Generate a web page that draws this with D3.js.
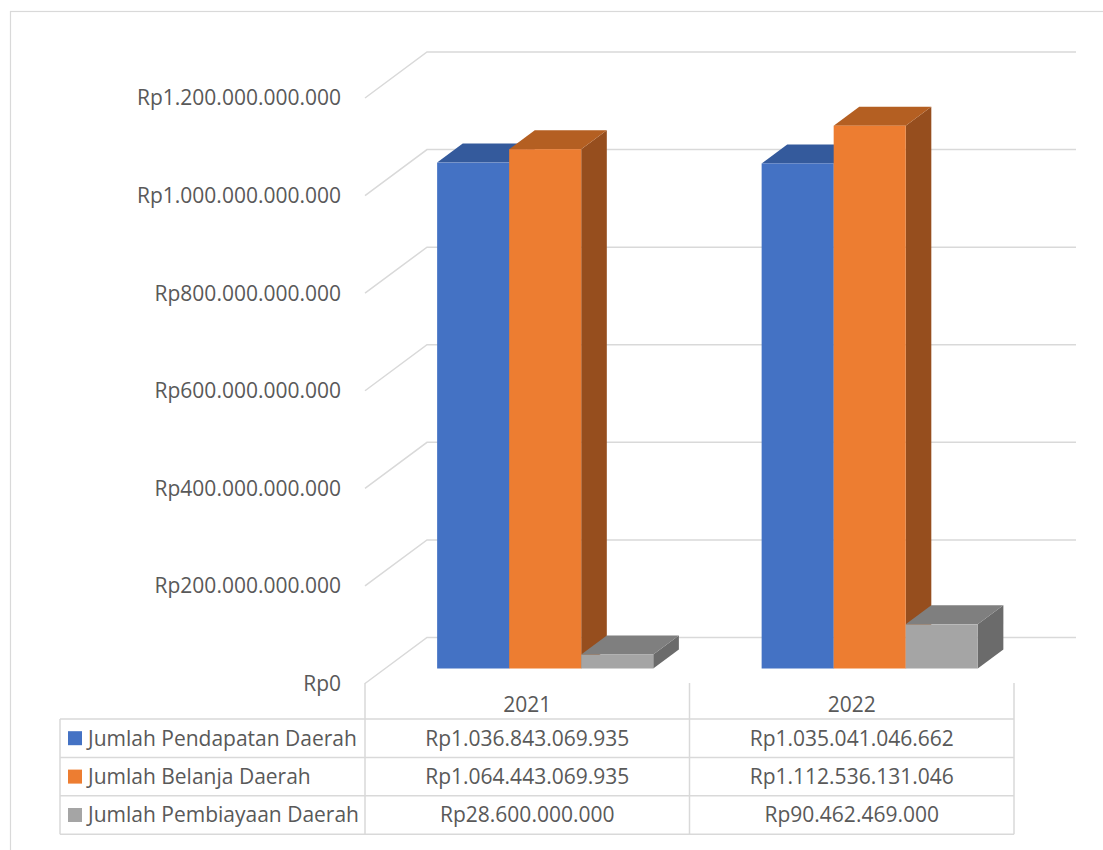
<!DOCTYPE html>
<html>
<head>
<meta charset="utf-8">
<script src="https://cdn.jsdelivr.net/npm/d3@7"></script>
<style>
  body { margin: 0; background: #fff; }
  text { font-family: "Open Sans", sans-serif; fill: #595959; }
</style>
</head>
<body>
<div id="chart"></div>
<script>
var years = ["2021", "2022"];
var seriesNames = ["Jumlah Pendapatan Daerah", "Jumlah Belanja Daerah", "Jumlah Pembiayaan Daerah"];
var pendapatan = [1036843069935, 1035041046662];
var belanja = [1064443069935, 1112536131046];
var pembiayaan = [28600000000, 90462469000];
var yTicks = [0, 200e9, 400e9, 600e9, 800e9, 1000e9, 1200e9];

var seriesValues = [pendapatan, belanja, pembiayaan];
var colors = [
    { front: "#4472c4", top: "#345a9c", side: "#2f5597" },
    { front: "#ed7d31", top: "#b45f22", side: "#964e1e" },
    { front: "#a5a5a5", top: "#7f7f7f", side: "#6b6b6b" }
];

var width = 1103, height = 850;
var fontSize = 21;

// plot front plane
var plotLeft = 365, plotRight = 1014;
var depthX = 62, depthY = -46;      // oblique offset of the back wall
var barD0 = 0.326, barD1 = 0.739;   // bar depth range (0 front, 1 back)

var idr = d3.formatLocale({ decimal: ",", thousands: ".", grouping: [3], currency: ["Rp", ""] });
var fmt = idr.format("$,.0f");

var y = d3.scaleLinear().domain([0, 1200e9]).range([683.5, 98]);
var x0 = d3.scaleBand().domain(years).range([plotLeft, plotRight]);
var x1 = d3.scaleBand().domain(d3.range(seriesNames.length))
    .range([x0.bandwidth() * 0.16, x0.bandwidth() * 0.826]).paddingInner(0);

function px(xf, d) { return xf + d * depthX; }
function py(yf, d) { return yf + d * depthY; }

var svg = d3.select("#chart").append("svg")
    .attr("width", width)
    .attr("height", height);

// outer chart border
svg.append("rect")
    .attr("x", 10.5).attr("y", 11.5)
    .attr("width", width + 10).attr("height", height + 10)
    .attr("fill", "none").attr("stroke", "#d9d9d9").attr("stroke-width", 1.2);

var grid = svg.append("g");

// side wall diagonals + back wall gridlines
yTicks.forEach(function(t) {
    var yf = y(t);
    grid.append("path")
        .attr("d", "M" + px(plotLeft, 0) + "," + py(yf, 0) +
            "L" + px(plotLeft, 1) + "," + py(yf, 1) +
            "L" + px(plotRight, 1) + "," + py(yf, 1))
        .attr("fill", "none")
        .attr("stroke", "#d9d9d9")
        .attr("stroke-width", 1.5);
});

// y tick labels
svg.append("g").selectAll("text")
    .data(yTicks)
    .enter().append("text")
    .attr("x", 341)
    .attr("y", function(d) { return y(d); })
    .attr("dy", "0.35em")
    .attr("text-anchor", "end")
    .attr("font-size", fontSize)
    .text(function(d) { return fmt(d); });

// bars
var bars = svg.append("g");
years.forEach(function(yr, i) {
    seriesValues.forEach(function(vals, s) {
        var xl = x0(yr) + x1(s), xr = xl + x1.bandwidth();
        var yb = y(0), yt = y(vals[i]);
        var c = colors[s];
        // right side
        bars.append("path")
            .attr("d", "M" + px(xr, barD0) + "," + py(yt, barD0) +
                "L" + px(xr, barD1) + "," + py(yt, barD1) +
                "L" + px(xr, barD1) + "," + py(yb, barD1) +
                "L" + px(xr, barD0) + "," + py(yb, barD0) + "Z")
            .attr("fill", c.side);
        // top
        bars.append("path")
            .attr("d", "M" + px(xl, barD0) + "," + py(yt, barD0) +
                "L" + px(xl, barD1) + "," + py(yt, barD1) +
                "L" + px(xr, barD1) + "," + py(yt, barD1) +
                "L" + px(xr, barD0) + "," + py(yt, barD0) + "Z")
            .attr("fill", c.top);
        // front
        bars.append("rect")
            .attr("x", px(xl, barD0))
            .attr("y", py(yt, barD0))
            .attr("width", xr - xl)
            .attr("height", yb - yt)
            .attr("fill", c.front);
    });
});

// data table
var tbl = svg.append("g");
var tableLeft = 60, headTop = 683, rowTop = 719, rowH = 38.4;
var lineCol = "#d9d9d9";

function hline(x1_, x2_, yy) {
    tbl.append("line").attr("x1", x1_).attr("x2", x2_).attr("y1", yy).attr("y2", yy)
        .attr("stroke", lineCol).attr("stroke-width", 1.5);
}
function vline(xx, y1_, y2_) {
    tbl.append("line").attr("x1", xx).attr("x2", xx).attr("y1", y1_).attr("y2", y2_)
        .attr("stroke", lineCol).attr("stroke-width", 1.5);
}

var tableBottom = rowTop + rowH * seriesNames.length;
for (var r = 0; r <= seriesNames.length; r++) {
    hline(tableLeft, plotRight, rowTop + r * rowH);
}
vline(tableLeft, rowTop, tableBottom);
vline(plotLeft, headTop, tableBottom);
years.forEach(function(yr) {
    vline(x0(yr) + x0.bandwidth(), headTop, tableBottom);
});

// header
tbl.selectAll(".yr")
    .data(years)
    .enter().append("text")
    .attr("x", function(d) { return x0(d) + x0.bandwidth() / 2; })
    .attr("y", 705)
    .attr("dy", "0.35em")
    .attr("text-anchor", "middle")
    .attr("font-size", fontSize)
    .text(function(d) { return d; });

seriesNames.forEach(function(name, s) {
    var cy = rowTop + s * rowH + rowH / 2;
    tbl.append("rect")
        .attr("x", 68).attr("y", cy - 7)
        .attr("width", 14).attr("height", 14)
        .attr("fill", colors[s].front);
    tbl.append("text")
        .attr("x", 88).attr("y", cy)
        .attr("dy", "0.35em")
        .attr("font-size", fontSize)
        .text(name);
    years.forEach(function(yr, i) {
        tbl.append("text")
            .attr("x", x0(yr) + x0.bandwidth() / 2)
            .attr("y", cy)
            .attr("dy", "0.35em")
            .attr("text-anchor", "middle")
            .attr("font-size", fontSize)
            .text(fmt(seriesValues[s][i]));
    });
});
</script>
</body>
</html>
